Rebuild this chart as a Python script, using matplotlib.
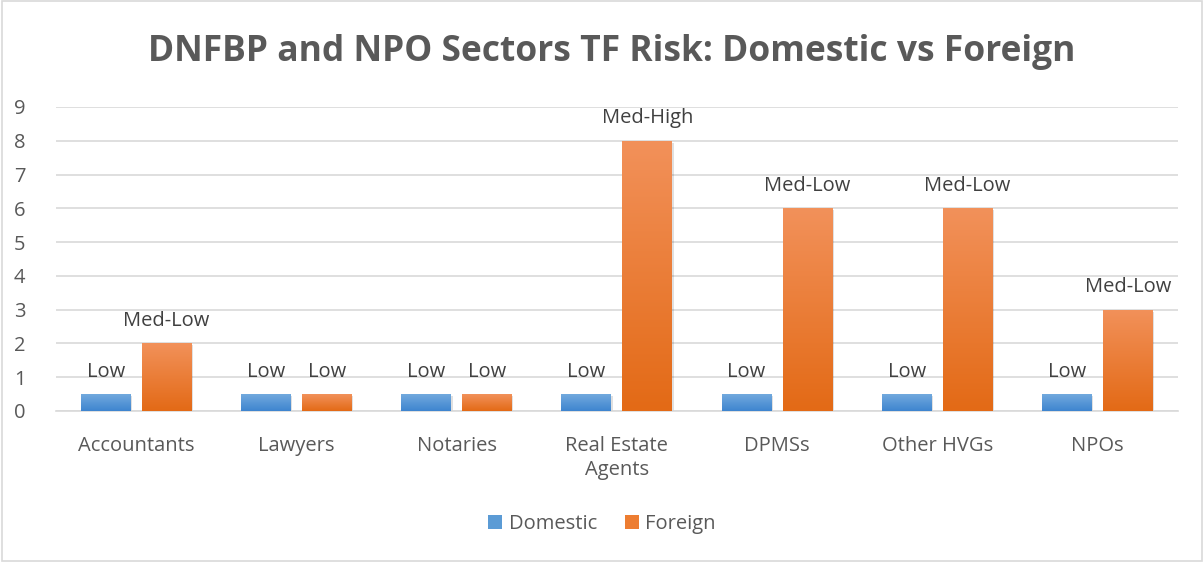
import numpy as np
import matplotlib.pyplot as plt
from matplotlib.patches import Rectangle, Patch

categories = ["Accountants", "Lawyers", "Notaries", "Real Estate\nAgents", "DPMSs", "Other HVGs", "NPOs"]
domestic = [0.5, 0.5, 0.5, 0.5, 0.5, 0.5, 0.5]
foreign = [2, 0.5, 0.5, 8, 6, 6, 3]
domestic_labels = ["Low"] * 7
foreign_labels = ["Med-Low", "Low", "Low", "Med-High", "Med-Low", "Med-Low", "Med-Low"]

plt.rcParams['font.family'] = ['Open Sans', 'DejaVu Sans']
txt = "#595959"
fs = 14.5

fig = plt.figure(figsize=(12.04, 5.62), dpi=100)
fig.patches.append(Rectangle((0.002, 0.002), 0.996, 0.996, transform=fig.transFigure,
                             fill=False, edgecolor="#d9d9d9", lw=1.2))
ax = fig.add_axes([0.0465, 0.2687, 0.9315, 0.541])

x = np.arange(len(categories))
w = 0.31
off = 0.19


def grad_bars(xs, vals, top, bottom, z=3):
    bars = ax.bar(xs, vals, w, color=bottom, zorder=z)
    cmap = plt.matplotlib.colors.LinearSegmentedColormap.from_list("g", [bottom, top])
    g = np.linspace(0, 1, 100).reshape(-1, 1)
    for b in bars:
        bx, by = b.get_x(), b.get_y()
        bw, bh = b.get_width(), b.get_height()
        # soft shadow
        ax.add_patch(Rectangle((bx + 0.01, by - 0.06), bw, bh, color="#000000", alpha=0.12,
                               zorder=z - 1, lw=0))
        im = ax.imshow(g, cmap=cmap, extent=[bx, bx + bw, by, by + bh], origin="lower",
                       aspect="auto", zorder=z + 0.5)
        im.set_clip_path(b)
    return bars


grad_bars(x - off, domestic, "#72a9de", "#3e85cf")
grad_bars(x + off, foreign, "#f2915a", "#e36a16")

for xi, v, lab in zip(x - off, domestic, domestic_labels):
    ax.annotate(lab, (xi, v), xytext=(0, 9), textcoords="offset points", ha="center",
                va="bottom", fontsize=fs, color="#404040")
for xi, v, lab in zip(x + off, foreign, foreign_labels):
    ax.annotate(lab, (xi, v), xytext=(0, 9), textcoords="offset points", ha="center",
                va="bottom", fontsize=fs, color="#404040")

ax.set_xlim(-0.5, len(categories) - 0.5)
ax.set_ylim(0, 9)
ax.set_yticks(range(10))
ax.set_xticks(x)
ax.set_xticklabels(categories, fontsize=fs, color=txt, linespacing=1.25)
ax.tick_params(axis="y", labelsize=fs, labelcolor=txt, length=0, pad=22)
ax.tick_params(axis="x", length=0, pad=18)
ax.grid(axis="y", color="#d9d9d9", lw=1.2, zorder=0)
ax.set_axisbelow(True)
for s in ["top", "right", "left"]:
    ax.spines[s].set_visible(False)
ax.spines["bottom"].set_color("#d9d9d9")
ax.spines["bottom"].set_linewidth(1.2)

fig.text(0.508, 0.907, "DNFBP and NPO Sectors TF Risk: Domestic vs Foreign", ha="center",
         va="center", fontsize=25.5, fontweight="bold", color=txt)

handles = [Patch(facecolor="#5b9bd5", label="Domestic"), Patch(facecolor="#ed7d31", label="Foreign")]
fig.legend(handles=handles, loc="center", bbox_to_anchor=(0.5, 0.068), ncol=2, frameon=False,
           fontsize=fs, labelcolor=txt, handlelength=0.7, handleheight=0.7,
           handletextpad=0.3, columnspacing=1.4)

fig.savefig("out.png", dpi=100)
